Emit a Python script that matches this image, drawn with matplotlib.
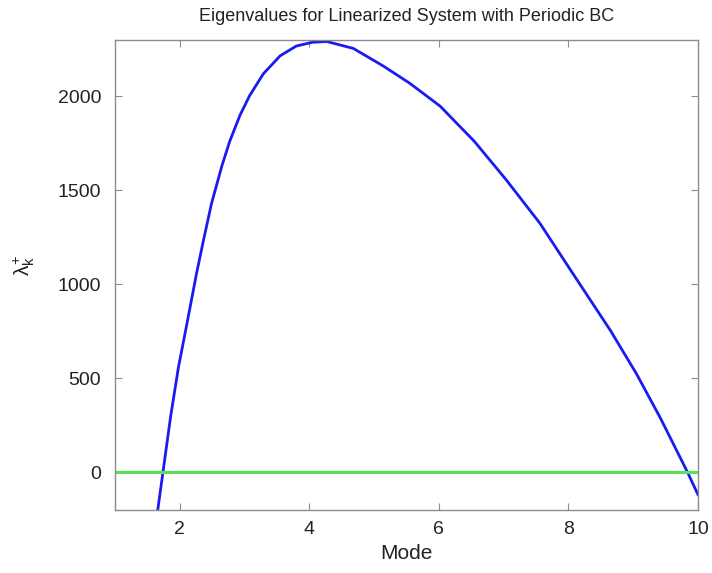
import matplotlib
matplotlib.use("Agg")
import matplotlib.pyplot as plt

# Data
mode = [1.66, 1.74, 1.86, 1.98, 2.11, 2.26, 2.36, 2.49, 2.65, 2.77, 2.93, 3.08,
        3.29, 3.55, 3.80, 4.05, 4.27, 4.68, 5.14, 5.55, 6.02, 6.55, 7.04, 7.56,
        8.07, 8.48, 8.65, 9.05, 9.42, 9.84, 10.0]
eig = [-200, 0, 300, 560, 790, 1060, 1225, 1430, 1630, 1760, 1900, 2005,
       2120, 2216, 2268, 2288, 2292, 2255, 2162, 2070, 1948, 1760, 1556, 1325,
       1057, 843, 754, 525, 289, 0, -118]
zero_x = [1, 10]
zero_y = [0, 0]
xticks = [2, 4, 6, 8, 10]
yticks = [0, 500, 1000, 1500, 2000]

plt.rcParams['font.family'] = ['Liberation Sans', 'DejaVu Sans']
plt.rcParams['mathtext.fontset'] = 'custom'
plt.rcParams['mathtext.rm'] = 'Liberation Sans'
plt.rcParams['mathtext.it'] = 'Liberation Sans'

fig = plt.figure(figsize=(7.12, 5.73), dpi=100)
ax = fig.add_axes([0.1615, 0.1099, 0.8188, 0.8203])

ax.plot(mode, eig, color=(0.1, 0.1, 0.95), linewidth=2.0)
ax.plot(zero_x, zero_y, color=(0.35, 0.88, 0.35), linewidth=2.2)

ax.set_xlim(1, 10)
ax.set_ylim(-200, 2300)
ax.set_xticks(xticks)
ax.set_yticks(yticks)

grey = '#8c8c8c'
for s in ax.spines.values():
    s.set_color(grey)
    s.set_linewidth(1.0)
ax.tick_params(direction='in', length=5, width=0.8, color=grey,
               top=True, right=True, labelsize=14, labelcolor='#222222')
ax.tick_params(axis='y', pad=10)
ax.tick_params(axis='x', pad=8)

ax.set_title('Eigenvalues for Linearized System with Periodic BC',
             fontsize=13, color='#222222', pad=14)
ax.set_xlabel('Mode', fontsize=15, color='#222222', labelpad=4)
ax.set_ylabel(r'$\lambda^{+}_{k}$', fontsize=15, color='#222222')
ax.yaxis.set_label_coords(-0.134, 0.52)

fig.savefig('out.png', dpi=100)
